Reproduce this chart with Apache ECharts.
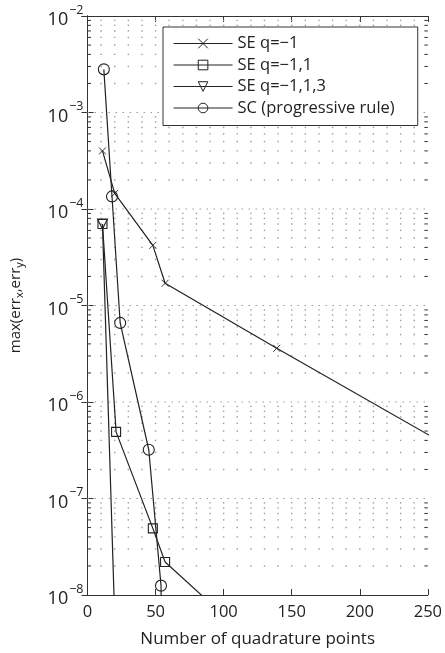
<!DOCTYPE html>
<html>
<head>
<meta charset="utf-8">
<script src="https://cdn.jsdelivr.net/npm/echarts@6/dist/echarts.min.js"></script>
<style>
  html, body { margin: 0; padding: 0; background: #fff; }
  #chart { width: 445px; height: 653px; }
</style>
</head>
<body>
<div id="chart"></div>
<script>
const FONT = '"Open Sans", sans-serif';
const INK = '#222';

// Number of quadrature points vs. max error, one pair of arrays per scheme
const seQ1Points = [11, 20, 48, 57, 139, 290];
const seQ1Error  = [4.0e-4, 1.45e-4, 4.2e-5, 1.7e-5, 3.6e-6, 2.2e-7];

const seQ11Points = [11, 21, 48, 57, 107];
const seQ11Error  = [7.0e-5, 4.9e-7, 4.9e-8, 2.2e-8, 5.0e-9];

const seQ113Points = [11, 21];
const seQ113Error  = [7.0e-5, 2.0e-9];

const scPoints = [12, 18, 24, 45, 54, 55];
const scError  = [2.8e-3, 1.35e-4, 6.6e-6, 3.2e-7, 1.25e-8, 1.0e-9];

const seriesNames = ['SE q=\u22121', 'SE q=\u22121,1', 'SE q=\u22121,1,3', 'SC (progressive rule)'];

// Axis ranges and ticks
const xMin = 0, xMax = 250, xStep = 50, xMinorStep = 10;
const yMinExp = -8, yMaxExp = -2;

// Minor grid: x positions every 10 points, y rows at 1..9 x 10^k
const xGridTicks = [];
for (let v = xMin + xMinorStep; v < xMax; v += xMinorStep) xGridTicks.push(v);
const yGridRows = [];
for (let e = yMinExp; e < yMaxExp; e++) {
  for (let m = 1; m <= 9; m++) {
    if (e === yMinExp && m === 1) continue;
    yGridRows.push([0, m * Math.pow(10, e), m === 1 ? 1 : 0]);
  }
}

function pairs(xs, ys) { return xs.map((x, i) => [x, ys[i]]); }

const crossPath = 'path://M0,0L10,10M10,0L0,10';

function lineSeries(name, xs, ys, symbol, size, border, rotate) {
  return {
    name: name,
    type: 'line',
    data: pairs(xs, ys),
    symbol: symbol,
    symbolSize: size,
    symbolRotate: rotate || 0,
    showAllSymbol: true,
    clip: true,
    z: 3,
    lineStyle: { color: INK, width: 1.2 },
    itemStyle: { color: 'rgba(0,0,0,0)', borderColor: INK, borderWidth: border },
    emphasis: { disabled: true }
  };
}

function renderGrid(params, api) {
  const cs = params.coordSys;
  const y = api.value(1);
  const major = api.value(2);
  const py = api.coord([xMin, y])[1];
  const children = [];
  if (major) {
    children.push({
      type: 'line',
      shape: { x1: cs.x, y1: py, x2: cs.x + cs.width, y2: py },
      style: { stroke: '#9a9a9a', lineWidth: 1, lineDash: [1.5, 5.5] }
    });
  } else {
    xGridTicks.forEach(function (xv) {
      const px = api.coord([xv, y])[0];
      children.push({
        type: 'rect',
        shape: { x: px - 0.7, y: py - 0.7, width: 1.4, height: 1.4 },
        style: { fill: '#9a9a9a' }
      });
    });
    children.push({
      type: 'line',
      shape: { x1: cs.x, y1: py, x2: cs.x + 3.5, y2: py },
      style: { stroke: '#333', lineWidth: 1 }
    });
    children.push({
      type: 'line',
      shape: { x1: cs.x + cs.width - 3.5, y1: py, x2: cs.x + cs.width, y2: py },
      style: { stroke: '#333', lineWidth: 1 }
    });
  }
  return { type: 'group', children: children };
}

const chart = echarts.init(document.getElementById('chart'), null, { renderer: 'canvas' });

const axisLine = { show: true, lineStyle: { color: '#333', width: 1 } };

chart.setOption({
  animation: false,
  backgroundColor: '#fff',
  textStyle: { fontFamily: FONT },
  grid: { left: 86, right: 17, top: 16, bottom: 56, containLabel: false },
  legend: {
    orient: 'vertical',
    left: 163,
    top: 27,
    padding: [8, 23, 9, 10],
    itemWidth: 59,
    itemHeight: 12,
    itemGap: 4.5,
    backgroundColor: '#fff',
    borderColor: '#333',
    borderWidth: 1,
    lineStyle: { width: 1.1 },
    itemStyle: { borderWidth: 1 },
    textStyle: { fontFamily: FONT, fontSize: 16.5, color: INK, lineHeight: 17 },
    data: seriesNames
  },
  xAxis: [
    {
      type: 'value', min: xMin, max: xMax, interval: xStep,
      name: 'Number of quadrature points',
      nameLocation: 'middle', nameGap: 36,
      nameTextStyle: { fontFamily: FONT, fontSize: 17, color: INK },
      axisLine: axisLine,
      axisTick: { inside: true, length: 6, lineStyle: { color: '#333' } },
      axisLabel: { fontFamily: FONT, fontSize: 16.5, color: INK, margin: 9 },
      splitLine: { show: false }
    },
    {
      type: 'value', position: 'top', min: xMin, max: xMax, interval: xStep,
      axisLine: axisLine,
      axisTick: { inside: true, length: 6, lineStyle: { color: '#333' } },
      axisLabel: { show: false },
      splitLine: { show: false }
    }
  ],
  yAxis: [
    {
      type: 'log', logBase: 10,
      min: Math.pow(10, yMinExp), max: Math.pow(10, yMaxExp),
      name: '{n|max(err}{s|x}{n|,err}{s|y}{n|)}',
      nameLocation: 'middle', nameGap: 62,
      nameTextStyle: {
        color: INK,
        rich: {
          n: { fontFamily: FONT, fontSize: 15, color: INK },
          s: { fontFamily: FONT, fontSize: 11, color: INK, padding: [9, 0, 0, 0] }
        }
      },
      axisLine: axisLine,
      axisTick: { inside: true, length: 6, lineStyle: { color: '#333' } },
      axisLabel: {
        margin: 4,
        formatter: function (v) {
          const e = Math.round(Math.log10(v));
          return '{b|10}{s|' + (e < 0 ? '\u2212' + (-e) : e) + '}';
        },
        rich: {
          b: { fontFamily: FONT, fontSize: 18, color: INK, padding: [8, 0, 0, 0] },
          s: { fontFamily: FONT, fontSize: 12.5, color: INK, padding: [0, 0, 12, 1] }
        }
      },
      splitLine: { show: false }
    },
    {
      type: 'log', logBase: 10, position: 'right',
      min: Math.pow(10, yMinExp), max: Math.pow(10, yMaxExp),
      axisLine: axisLine,
      axisTick: { inside: true, length: 6, lineStyle: { color: '#333' } },
      axisLabel: { show: false },
      splitLine: { show: false }
    }
  ],
  series: [
    {
      type: 'custom',
      name: 'grid',
      xAxisIndex: 0, yAxisIndex: 0,
      data: yGridRows,
      encode: { x: 0, y: 1 },
      renderItem: renderGrid,
      silent: true,
      z: 1
    },
    lineSeries(seriesNames[0], seQ1Points, seQ1Error, crossPath, 7, 0.9),
    lineSeries(seriesNames[1], seQ11Points, seQ11Error, 'rect', 9, 1.1),
    lineSeries(seriesNames[2], seQ113Points, seQ113Error, 'triangle', 10, 1.1, 180),
    lineSeries(seriesNames[3], scPoints, scError, 'circle', 11, 1.1)
  ]
});
</script>
</body>
</html>
